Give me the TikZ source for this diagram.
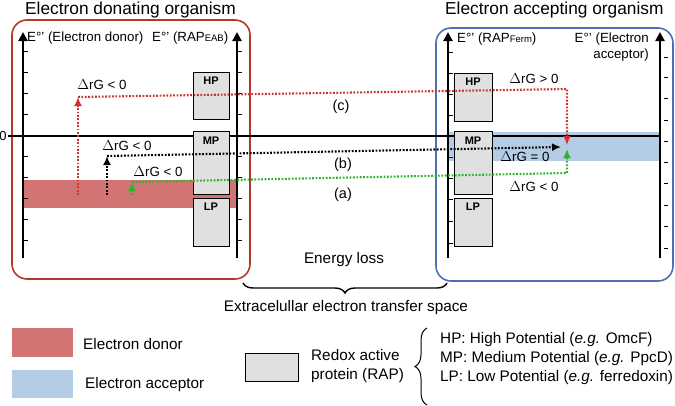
\documentclass[tikz,border=0pt]{standalone}
\usepackage{fontspec}
\setmainfont{Liberation Sans}
\usetikzlibrary{arrows.meta,decorations.pathreplacing}
\definecolor{donorline}{HTML}{B23A2C}
\definecolor{acceptline}{HTML}{4F6FB3}
\definecolor{donorfill}{HTML}{D27474}
\definecolor{acceptfill}{HTML}{B4CDE5}
\definecolor{rapfill}{HTML}{E0E0E0}
\definecolor{pathred}{HTML}{C8362F}
\definecolor{pathgreen}{HTML}{2DB42D}
\tikzset{
  orgbox/.style={rounded corners=15pt, line width=1.6pt},
  axisline/.style={line width=2.3pt, -{Triangle[length=9pt,width=9pt]}},
  tickline/.style={line width=1pt},
  rapbox/.style={draw=black, line width=1pt, fill=rapfill},
  raplabel/.style={font=\bfseries\fontsize{11}{13}\selectfont, inner sep=0pt, anchor=north},
  axlabel/.style={font=\fontsize{13.3}{15}\selectfont, inner sep=0pt},
  dglabel/.style={font=\fontsize{13.3}{15}\selectfont, inner sep=0pt},
  pathlabel/.style={font=\fontsize{14.5}{16}\selectfont, inner sep=0pt},
  titlelabel/.style={font=\fontsize{17.3}{20}\selectfont, inner sep=0pt},
  legendlabel/.style={font=\fontsize{15.3}{18}\selectfont, inner sep=0pt, anchor=west, align=left},
  dotpath/.style={line width=2.1pt, dash pattern=on 1.8pt off 1.6pt},
  tip/.style={-{Latex[length=9pt,width=8pt]}}
}
\begin{document}
\begin{tikzpicture}[x=1pt,y=-1pt]
\useasboundingbox (0,0) rectangle (675,405);

% organism boxes
\draw[orgbox, draw=donorline] (12,20) rectangle (250,279);
\draw[orgbox, draw=acceptline] (436,28) rectangle (673,281);

% bands
\fill[donorfill] (23,180) rectangle (237,208);
\fill[acceptfill] (448,132) rectangle (660,161);

% zero line
\draw[line width=1.7pt] (8,136) -- (660,136);
\node[inner sep=0pt, font=\fontsize{13}{15}\selectfont] (zero) at (3,136) {0};

% axes
\coordinate (a1b) at (23,258); \coordinate (a1t) at (23,32);
\coordinate (a2b) at (237,258); \coordinate (a2t) at (237,32);
\coordinate (a3b) at (448,258); \coordinate (a3t) at (448,32);
\coordinate (a4b) at (660,258); \coordinate (a4t) at (660,32);
\draw[axisline] (a1b) -- (a1t);
\draw[axisline] (a2b) -- (a2t);
\draw[axisline] (a3b) -- (a3t);
\draw[axisline] (a4b) -- (a4t);

% ticks
\foreach \y in {51,72,93,114,156,177,198,219,240} {
  \draw[tickline] (23,\y) -- (28,\y);
  \draw[tickline] (237,\y) -- (242,\y);
}
\foreach \y in {52,73,94,115,157,178,199,221,243} {
  \draw[tickline] (448,\y) -- (453,\y);
}
\foreach \y in {57,77,98,120,141,162,183,205,226,248} {
  \draw[tickline] (664,\y) -- (668,\y);
}

% RAP boxes left
\draw[rapbox] (193,72) rectangle (229,119);
\draw[rapbox] (193,131) rectangle (229,194);
\draw[rapbox] (193,198) rectangle (229,246);
\node[raplabel] (lhp) at (211,77) {HP};
\node[raplabel] (lmp) at (211,137) {MP};
\node[raplabel] (llp) at (211,203) {LP};
% RAP boxes right
\draw[rapbox] (454,73) rectangle (492,121);
\draw[rapbox] (454,131) rectangle (492,194);
\draw[rapbox] (454,198) rectangle (492,246);
\node[raplabel] (rhp) at (473,78) {HP};
\node[raplabel] (rmp) at (473,137) {MP};
\node[raplabel] (rlp) at (473,203) {LP};

% axis labels
\node[axlabel, anchor=base west] (l1) at (27,41) {E°' (Electron donor)};
\node[axlabel, anchor=base west] (l2) at (152,41) {E°' (RAP\raisebox{-0.6pt}{\fontsize{9.5}{10}\selectfont EAB})};
\node[axlabel, anchor=base west] (l3) at (457,42) {E°' (RAP\raisebox{-0.6pt}{\fontsize{9.5}{10}\selectfont Ferm})};
\node[axlabel, anchor=base east] (l4) at (649,42) {E°' (Electron};
\node[axlabel, anchor=base east] (l5) at (649,58) {acceptor)};

% titles
\node[titlelabel, anchor=base west] (t1) at (25,14) {Electron donating organism};
\node[titlelabel, anchor=base west] (t2) at (445,14) {Electron accepting organism};

% paths
\coordinate (c0) at (78,195); \coordinate (c1) at (78,97);
\coordinate (c2) at (567,89); \coordinate (c3) at (567,145);
\coordinate (b0) at (107,195); \coordinate (b1) at (107,156);
\coordinate (b2) at (561,147);
\coordinate (g0) at (132,195); \coordinate (g1) at (132,182);
\coordinate (g2) at (567,173); \coordinate (g3) at (567,149);

\draw[dotpath, pathred, tip] (c0) -- (c1);
\draw[dotpath, pathred, tip] (c1) -- (c2) -- (c3);
\draw[dotpath, black, tip] (b0) -- (b1);
\draw[dotpath, black, tip] (b1) -- (b2);
\draw[dotpath, pathgreen, tip] (g0) -- (g1);
\draw[dotpath, pathgreen, tip] (g1) -- (g2) -- (g3);

% dG labels
\node[dglabel] (d1) at (102,85) {$\Delta$rG < 0};
\node[dglabel] (d2) at (127,146) {$\Delta$rG < 0};
\node[dglabel] (d3) at (158,172) {$\Delta$rG < 0};
\node[dglabel] (d4) at (534,79) {$\Delta$rG > 0};
\node[dglabel] (d5) at (525,157) {$\Delta$rG = 0};
\node[dglabel] (d6) at (534,187) {$\Delta$rG < 0};

\node[pathlabel] (pc) at (341,107) {(c)};
\node[pathlabel] (pb) at (343,165) {(b)};
\node[pathlabel] (pa) at (343,195) {(a)};

\node[legendlabel, anchor=center] (eloss) at (344,260) {Energy loss};

% extracellular brace
\coordinate (br1) at (243,283); \coordinate (br2) at (447,283);
\draw[line width=1.4pt, decorate, decoration={brace, mirror, amplitude=10pt}] (br1) -- (br2);
\node[legendlabel, anchor=center] (extra) at (346,308) {Extracelullar electron transfer space};

% legend
\fill[donorfill] (12,328) rectangle (73,357);
\node[legendlabel] (ld) at (83,344) {Electron donor};
\fill[acceptfill] (12,370) rectangle (73,398);
\node[legendlabel] (la) at (85,385) {Electron acceptor};
\draw[rapbox] (245,353) rectangle (298,381);
\node[legendlabel, anchor=north west, font=\fontsize{15.3}{19.5}\selectfont] (lr) at (311,349) {Redox active\\protein (RAP)};
\coordinate (lb1) at (427,405); \coordinate (lb2) at (427,328);
\draw[line width=1pt, decorate, decoration={brace, amplitude=12pt}] (lb1) -- (lb2);
\node[legendlabel] (lhpx) at (440,340) {HP: High Potential (\emph{e.g.} OmcF)};
\node[legendlabel] (lmpx) at (440,359) {MP: Medium Potential (\emph{e.g.} PpcD)};
\node[legendlabel] (llpx) at (440,378) {LP: Low Potential (\emph{e.g.} ferredoxin)};
\end{tikzpicture}
\end{document}
